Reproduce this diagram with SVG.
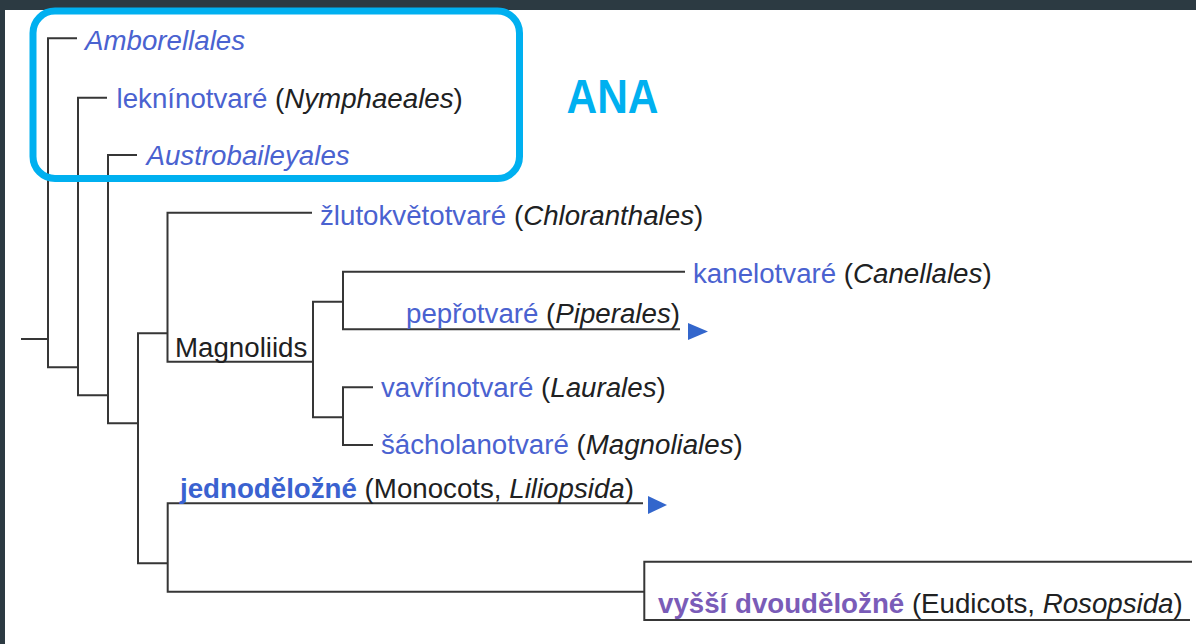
<svg xmlns="http://www.w3.org/2000/svg" width="1196" height="644" viewBox="0 0 1196 644">
<style>
.t{font-family:"Liberation Sans",Arial,sans-serif;font-size:27.7px;fill:#202122}
.l{fill:#4a62d0}
.v{fill:#7a5cb8}
.b{font-weight:bold}
.i{font-style:italic}
.c{fill:none;stroke:#363636;stroke-width:2}
.arr{fill:#3366cc}
</style>
<rect x="0" y="0" width="1196" height="644" fill="#ffffff"/>
<rect x="0" y="0" width="1196" height="10" fill="#2c3a42"/>
<rect x="0" y="0" width="5" height="644" fill="#2c3a42"/>
<g id="connectors">
<path class="c" d="M21,339 H48"/>
<path class="c" d="M77,38.3 H48 V367.3 H78"/>
<path class="c" d="M107,97.7 H78 V395.3 H108"/>
<path class="c" d="M137,155 H108 V423.3 H138"/>
<path class="c" d="M167.5,333.3 H138 V563.3 H168"/>
<path class="c" d="M312,212.8 H167.5 V361.7 H313"/>
<path class="c" d="M343,301.7 H313 V417.3 H343"/>
<path class="c" d="M685,271.7 H343 V329.3 H680"/>
<path class="c" d="M373,387.3 H343 V445 H373"/>
<path class="c" d="M643,503.3 H167.7 V591.7 H644"/>
<path class="c" d="M1192,561.7 H644.3 V620 H1190"/>
<polygon class="arr" points="688,323 708,331.5 688,340"/>
<polygon class="arr" points="648,496 667,505 648,514"/>
</g>
<g id="ana-box">
<rect x="33" y="11" width="486.5" height="167.5" rx="22" ry="22" fill="none" stroke="#00b0f0" stroke-width="7"/>
<text x="566.5" y="113" font-family="'Liberation Sans',Arial,sans-serif" font-weight="bold" font-size="48" fill="#00b0f0" textLength="92" lengthAdjust="spacingAndGlyphs">ANA</text>
</g>
<g id="amborellales"><text class="t l i" x="85" y="50">Amborellales</text></g>
<g id="nymphaeales"><text class="t" x="116.5" y="108.3"><tspan class="l">leknínotvaré</tspan> (<tspan class="i">Nymphaeales</tspan>)</text></g>
<g id="austrobaileyales"><text class="t l i" x="146.5" y="165">Austrobaileyales</text></g>
<g id="chloranthales"><text class="t" x="320" y="224.5"><tspan class="l">žlutokvětotvaré</tspan> (<tspan class="i">Chloranthales</tspan>)</text></g>
<g id="magnoliids"><text class="t" x="175" y="356.7">Magnoliids</text></g>
<g id="canellales"><text class="t" x="693" y="283"><tspan class="l">kanelotvaré</tspan> (<tspan class="i">Canellales</tspan>)</text></g>
<g id="piperales"><text class="t" x="680" y="322.7" text-anchor="end"><tspan class="l">pepřotvaré</tspan> (<tspan class="i">Piperales</tspan>)</text></g>
<g id="laurales"><text class="t" x="381" y="397"><tspan class="l">vavřínotvaré</tspan> (<tspan class="i">Laurales</tspan>)</text></g>
<g id="magnoliales"><text class="t" x="381" y="454"><tspan class="l">šácholanotvaré</tspan> (<tspan class="i">Magnoliales</tspan>)</text></g>
<g id="monocots"><text class="t" x="180" y="498"><tspan class="l b" style="fill:#3a62d0">jednoděložné</tspan> (Monocots, <tspan class="i">Liliopsida</tspan>)</text></g>
<g id="eudicots"><text class="t" x="658" y="613"><tspan class="v b">vyšší dvouděložné</tspan> (Eudicots, <tspan class="i">Rosopsida</tspan>)</text></g>
</svg>
